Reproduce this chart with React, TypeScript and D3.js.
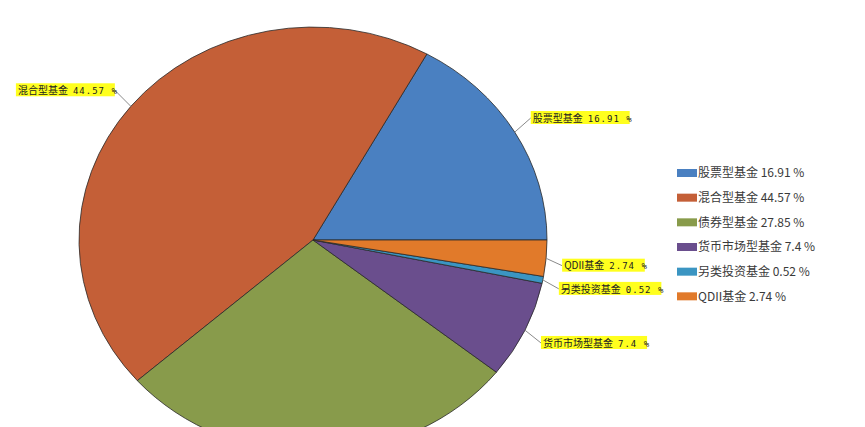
import React, { useEffect, useRef } from 'react';
import * as d3 from 'd3';

const categories = ['股票型基金', '混合型基金', '债券型基金', '货币市场型基金', '另类投资基金', 'QDII基金'];
const shares = [16.91, 44.57, 27.85, 7.4, 0.52, 2.74];
const colors = ['#4a80c1', '#c45f37', '#889b4b', '#6a4e8d', '#3b95c2', '#e17a2a'];

const App: React.FC = () => {
  const chartRef = useRef<SVGSVGElement>(null);

  useEffect(() => {
    const svg = d3.select(chartRef.current);
    svg.selectAll('*').remove();

    const width = 865;
    const height = 427;
    const cx = 313;
    const cy = 240;
    const r = 234;
    const squash = 0.91;

    svg.attr('width', width).attr('height', height);
    svg.append('rect').attr('width', width).attr('height', height).attr('fill', '#fff');

    const data = categories.map((name, i) => ({ name, value: shares[i], color: colors[i] }));

    // starts at 3 o'clock, runs counter-clockwise
    const pie = d3
      .pie<any>()
      .sort(null)
      .value((d) => d.value)
      .startAngle(Math.PI / 2)
      .endAngle(Math.PI / 2 - 2 * Math.PI);
    const arcs = pie(data);
    const arc = d3.arc<any>().innerRadius(0).outerRadius(r);

    const g = svg
      .append('g')
      .attr('transform', `translate(${cx},${cy}) scale(1,${squash})`);

    g.selectAll('path')
      .data(arcs)
      .enter()
      .append('path')
      .attr('d', arc)
      .attr('fill', (d) => d.data.color)
      .attr('stroke', '#2a2a2a')
      .attr('stroke-width', 0.8)
      .attr('vector-effect', 'non-scaling-stroke');

    // callout labels (the bottom one falls outside the frame, as in the source)
    const labels = svg.append('g');
    arcs.forEach((a) => {
      const mid = (a.startAngle + a.endAngle) / 2;
      const s = Math.cos(mid); // up component
      const c = Math.sin(mid); // right component
      const x0 = cx + c * r;
      const y0 = cy - s * r * squash;
      const side = c >= 0 ? 1 : -1;
      const x1 = x0 + side * 16;
      const y1 = y0 - Math.sign(s) * (6 + 16 * Math.abs(s));
      if (y1 > height - 8) return;

      labels
        .append('line')
        .attr('x1', x0)
        .attr('y1', y0)
        .attr('x2', x1)
        .attr('y2', y1)
        .attr('stroke', '#8a8a8a')
        .attr('stroke-width', 1);

      const lg = labels.append('g');
      const bg = lg.append('rect').attr('fill', '#ffff1e');
      const t = lg
        .append('text')
        .attr('y', y1)
        .attr('dy', '0.36em')
        .attr('fill', '#222')
        .style('font-size', '10px');
      t.append('tspan').style('font-family', '"Noto Sans CJK SC", sans-serif').text(a.data.name);
      t.append('tspan')
        .attr('dx', 5)
        .style('font-family', '"DejaVu Sans Mono", monospace')
        .style('font-size', '9px')
        .style('letter-spacing', '1px')
        .text(`${a.data.value} %`);

      const w = (t.node() as SVGTextElement).getComputedTextLength();
      const tx = side > 0 ? x1 + 2 : x1 - 2 - w;
      t.attr('x', tx);
      bg.attr('x', tx - 2)
        .attr('y', y1 - 7)
        .attr('width', w + 4)
        .attr('height', 13);
    });

    // legend
    const legend = svg.append('g').attr('transform', 'translate(677,173)');
    const row = d3.scaleBand().domain(categories).range([0, 148]);
    data.forEach((d) => {
      const y = row(d.name) as number;
      legend
        .append('rect')
        .attr('x', 0)
        .attr('y', y - 4)
        .attr('width', 20)
        .attr('height', 8)
        .attr('fill', d.color);
      legend
        .append('text')
        .attr('x', 21)
        .attr('y', y)
        .attr('dy', '0.36em')
        .attr('fill', '#3a3a3a')
        .style('font-family', '"Noto Sans CJK SC", sans-serif')
        .style('font-size', '12px')
        .text(`${d.name} ${d.value} %`);
    });
  }, []);

  return (
    <svg
      ref={chartRef}
      style={{ position: 'absolute', left: 0, top: 0, display: 'block' }}
    ></svg>
  );
};

export default App;
